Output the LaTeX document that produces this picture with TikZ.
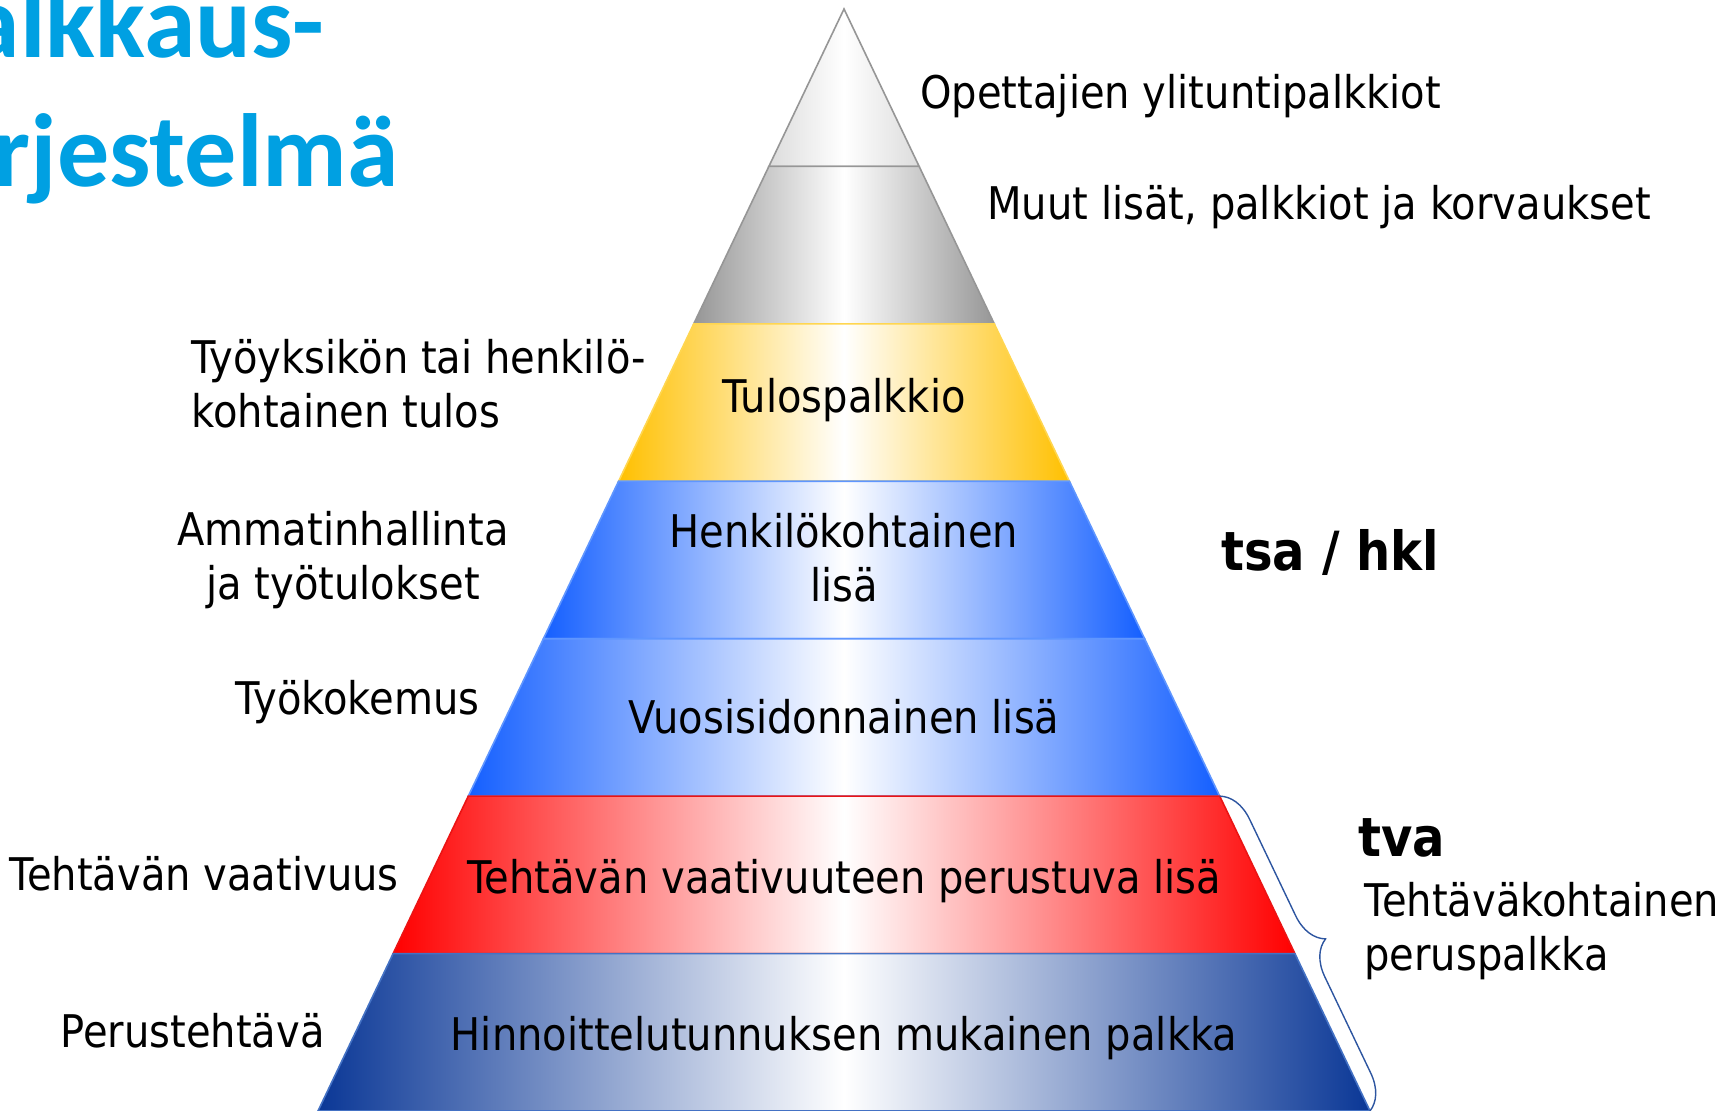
\documentclass[tikz,border=0pt]{standalone}
\usepackage{fontspec}
\setmainfont{DejaVu Sans}[FakeStretch=0.89]
\newfontfamily\titlefont{Carlito}
\usetikzlibrary{calc,decorations.pathreplacing}

\definecolor{titleblue}{RGB}{0,160,226}
\definecolor{pyrtop}{RGB}{220,220,220}
\definecolor{pyrgray}{RGB}{150,150,150}
\definecolor{rimgray}{RGB}{150,150,150}
\definecolor{pyrgold}{RGB}{255,192,0}
\definecolor{rimgold}{RGB}{255,214,80}
\definecolor{pyrblue}{RGB}{20,95,255}
\definecolor{rimblue}{RGB}{95,150,255}
\definecolor{pyrred}{RGB}{255,0,0}
\definecolor{rimred}{RGB}{235,20,20}
\definecolor{pyrnavy}{RGB}{10,55,150}
\definecolor{rimnavy}{RGB}{68,114,196}
\definecolor{braceblue}{RGB}{45,85,160}

\tikzset{
	lbl/.style={inner sep=0pt, font=\fontsize{22.5}{27}\selectfont},
	tagtext/.style={inner sep=0pt, font=\fontsize{27}{32}\selectfont\bfseries},
	headline/.style={inner sep=0pt, text=titleblue, font=\titlefont\bfseries\fontsize{52}{62}\selectfont},
}

\begin{document}
\begin{tikzpicture}

\def\px{0.5pt}

\begin{scope}[x=\px,y=-\px]
\useasboundingbox (0,0) rectangle (1728,1111);
\clip (0,0) rectangle (1728,1111);

\coordinate (apex) at (844,9);
\coordinate (bl) at (318,1111);
\coordinate (br) at (1370,1111);

% bands of the pyramid, top to bottom
\foreach \k/\edge/\rim in{%
	0/pyrtop/rimgray%
	,1/pyrgray/rimgray%
	,2/pyrgold/rimgold%
	,3/pyrblue/rimblue%
	,4/pyrblue/rimblue%
	,5/pyrred/rimred%
	,6/pyrnavy/rimnavy%
}{
	\pgfmathsetmacro\ta{\k/7}
	\pgfmathsetmacro\tb{(\k+1)/7}
	\shadedraw[left color=\edge, right color=\edge, middle color=white, draw=\rim, line width=0.8pt]
		($(apex)!\ta!(bl)$) -- ($(apex)!\tb!(bl)$) -- ($(apex)!\tb!(br)$) -- ($(apex)!\ta!(br)$) -- cycle;
}

\coordinate (bracetop) at ($(apex)!5/7!(br)$);
\draw[braceblue, line width=0.7pt, decorate, decoration={brace, amplitude=17pt}] (bracetop) -- (br);

\node[headline, anchor=base east] (ttl1) at (325,58) {Palkkaus-};
\node[headline, anchor=base east] (ttl2) at (399,187) {järjestelmä};

\node[lbl, anchor=base west] (ylit) at (920,109) {Opettajien ylituntipalkkiot};
\node[lbl, anchor=base west] (muut) at (987,220) {Muut lisät, palkkiot ja korvaukset};
\node[lbl, anchor=base] (tulos) at (844,413) {Tulospalkkio};
\node[lbl, anchor=base, align=center] (hkl) at (844,602) {Henkilökohtainen\\lisä};
\node[lbl, anchor=base] (vuosi) at (844,733) {Vuosisidonnainen lisä};
\node[lbl, anchor=base] (vaat) at (844,893) {Tehtävän vaativuuteen perustuva lisä};
\node[lbl, anchor=base] (hinn) at (844,1050) {Hinnoittelutunnuksen mukainen palkka};

\node[lbl, anchor=base west, align=left] (tyoy) at (191,428) {Työyksikön tai henkilö-\\kohtainen tulos};
\node[lbl, anchor=base, align=center] (amm) at (343,600) {Ammatinhallinta\\ja työtulokset};
\node[lbl, anchor=base east] (kok) at (480,714) {Työkokemus};
\node[lbl, anchor=base east] (tvaat) at (399,890) {Tehtävän vaativuus};
\node[lbl, anchor=base east] (perus) at (325,1047) {Perustehtävä};

\node[tagtext, anchor=base west] (tsa) at (1221,571) {tsa / hkl};
\node[tagtext, anchor=base west] (tva) at (1358,856) {tva};
\node[lbl, anchor=base west, align=left] (tkoht) at (1364,970) {Tehtäväkohtainen\\peruspalkka};
\end{scope}

\end{tikzpicture}
\end{document}
